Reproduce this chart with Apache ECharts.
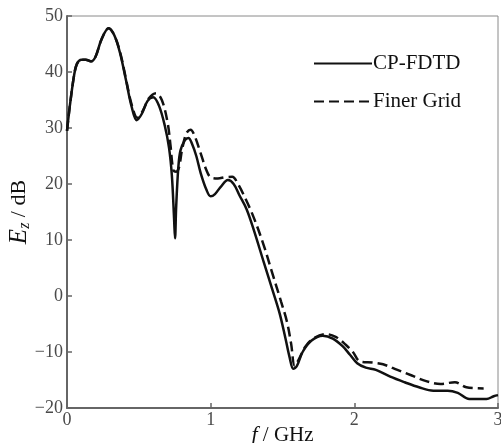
<!DOCTYPE html>
<html>
<head>
<meta charset="utf-8">
<script src="https://cdn.jsdelivr.net/npm/echarts@6/dist/echarts.min.js"></script>
<style>
  html, body { margin: 0; padding: 0; background: #fff; }
  #chart { width: 501px; height: 443px; }
</style>
</head>
<body>
<div id="chart"></div>
<script>
// frequency (GHz) and field strength (dB)
const cpFreq = [0, 0.02, 0.05, 0.07, 0.1, 0.13, 0.17, 0.2, 0.24, 0.29, 0.33, 0.37, 0.41, 0.45, 0.485,
  0.52, 0.56, 0.6, 0.64, 0.68, 0.71, 0.73, 0.745, 0.752, 0.76, 0.775, 0.79, 0.82, 0.845, 0.87, 0.9,
  0.93, 0.97, 1.0, 1.03, 1.07, 1.12, 1.16, 1.2, 1.25, 1.3, 1.37, 1.43, 1.48, 1.52, 1.55, 1.575, 1.6,
  1.64, 1.7, 1.78, 1.85, 1.92, 1.97, 2.02, 2.08, 2.15, 2.25, 2.35, 2.45, 2.55, 2.65, 2.72, 2.8, 2.92,
  2.97, 3.0];
const cpEz = [29.5, 34, 39.5, 41.5, 42.2, 42.2, 41.9, 42.8, 45.8, 47.8, 46.5, 43.3, 38.6, 33.8, 31.4,
  32.5, 34.8, 35.5, 34, 30.5, 26.5, 21.5, 14, 10.3, 16, 23, 26, 27.8, 28.2, 27.2, 25,
  22, 19, 17.8, 18.2, 19.5, 20.7, 20, 18, 15.5, 11.8, 6, 1.1, -3.1, -7.5, -11, -13, -12.5,
  -10, -8, -7.1, -7.6, -9, -10.5, -12, -12.8, -13.2, -14.4, -15.4, -16.3, -16.9, -16.9, -17.3, -18.4, -18.4,
  -17.9, -17.7];

const fineFreq = [0, 0.02, 0.05, 0.07, 0.1, 0.13, 0.17, 0.2, 0.24, 0.29, 0.33, 0.37, 0.41, 0.45, 0.49,
  0.53, 0.57, 0.62, 0.66, 0.7, 0.72, 0.74, 0.76, 0.78, 0.8, 0.83, 0.86, 0.89, 0.93, 0.97, 1.0,
  1.05, 1.1, 1.15, 1.19, 1.24, 1.3, 1.37, 1.43, 1.49, 1.53, 1.56, 1.585, 1.61, 1.66, 1.72, 1.8,
  1.87, 1.94, 1.99, 2.04, 2.13, 2.2, 2.3, 2.4, 2.5, 2.6, 2.7, 2.78, 2.9];
const fineEz = [29.5, 34, 39.5, 41.5, 42.2, 42.2, 41.9, 42.8, 45.8, 47.8, 46.5, 43.5, 38.8, 34.2, 31.8,
  33.2, 35.3, 36.2, 35, 31, 27, 22.5, 22.2, 23, 26, 29, 29.7, 28.5, 25.5, 22.5, 21.2,
  21, 21.2, 21.3, 20, 17.5, 14, 9, 4, -1, -4.5, -8.5, -12.5, -11.5, -9, -7.5, -6.8,
  -7.3, -8.7, -10, -11.7, -11.9, -12.2, -13.2, -14.2, -15.2, -15.7, -15.4, -16.3, -16.5];

const seriesNames = ['CP-FDTD', 'Finer Grid'];
const yTicks = [-20, -10, 0, 10, 20, 30, 40, 50];
const xTicks = [0, 1, 2, 3];

const pair = (xs, ys) => xs.map((x, i) => [x, ys[i]]);

const chart = echarts.init(document.getElementById('chart'));

const axisFont = { fontFamily: 'Liberation Serif', fontSize: 18, color: '#4a4a4a' };

chart.setOption({
  animation: false,
  backgroundColor: '#fff',
  grid: {
    left: 67, right: 3, top: 16, bottom: 35,
    containLabel: false,
    outerBoundsMode: 'none',
    show: true, borderColor: '#8a8a8a', borderWidth: 1
  },
  legend: {
    orient: 'vertical',
    left: 308, top: 48,
    itemWidth: 58, itemHeight: 14, itemGap: 17,
    data: seriesNames,
    itemStyle: { opacity: 0 },
    textStyle: { fontFamily: 'Liberation Serif', fontSize: 21, color: '#111', padding: [0, 0, 0, -4] }
  },
  xAxis: {
    type: 'value',
    min: xTicks[0], max: xTicks[xTicks.length - 1], interval: 1,
    splitLine: { show: false },
    axisLine: { onZero: false, lineStyle: { color: '#666', width: 2 } },
    axisTick: { inside: true, length: 5, lineStyle: { color: '#666', width: 1.5 } },
    axisLabel: Object.assign({ margin: 3, showMaxLabel: true }, axisFont),
    name: '{i|f} / GHz',
    nameLocation: 'middle',
    nameMoveOverlap: false,
    nameGap: 17,
    nameTextStyle: {
      fontFamily: 'Liberation Serif', fontSize: 21, color: '#111', lineHeight: 20,
      rich: { i: { fontFamily: 'Liberation Serif', fontStyle: 'italic', fontSize: 22, lineHeight: 20, color: '#111' } }
    }
  },
  yAxis: {
    type: 'value',
    min: yTicks[0], max: yTicks[yTicks.length - 1], interval: 10,
    splitLine: { show: false },
    axisLine: { onZero: false, lineStyle: { color: '#666', width: 2 } },
    axisTick: { inside: true, length: 5, lineStyle: { color: '#666', width: 1.5 } },
    axisLabel: Object.assign({ margin: 4, formatter: v => String(v).replace('-', '\u2212') }, axisFont),
    name: '{i|E}{s|z} / dB',
    nameLocation: 'middle',
    nameMoveOverlap: false,
    nameGap: 34,
    nameRotate: 90,
    nameTextStyle: {
      fontFamily: 'Liberation Serif', fontSize: 22, color: '#111',
      rich: {
        i: { fontFamily: 'Liberation Serif', fontStyle: 'italic', fontSize: 25, color: '#111' },
        s: { fontFamily: 'Liberation Serif', fontStyle: 'italic', fontSize: 16, color: '#111', padding: [12, 0, 0, 0] }
      }
    }
  },
  series: [
    {
      name: seriesNames[0],
      type: 'line',
      data: pair(cpFreq, cpEz),
      smooth: 0.35,
      showSymbol: false,
      symbol: 'none',
      lineStyle: { color: '#111', width: 2.5 },
      itemStyle: { color: '#111' },
      z: 3
    },
    {
      name: seriesNames[1],
      type: 'line',
      data: pair(fineFreq, fineEz),
      smooth: 0.35,
      showSymbol: false,
      symbol: 'none',
      lineStyle: { color: '#111', width: 2.5, type: [10, 5] },
      itemStyle: { color: '#111' },
      z: 2
    }
  ]
});
</script>
</body>
</html>
